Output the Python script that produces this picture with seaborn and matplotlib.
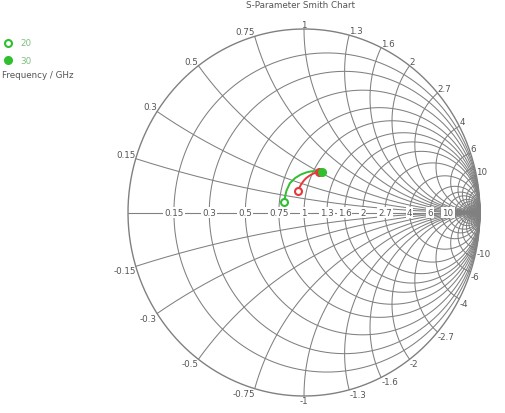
import numpy as np
import pandas as pd
import matplotlib
matplotlib.use("Agg")
import matplotlib.pyplot as plt
from matplotlib.lines import Line2D
import seaborn as sns

# ---- data ----
title = "S-Parameter Smith Chart"
grid_values = [0.15, 0.3, 0.5, 0.75, 1, 1.3, 1.6, 2, 2.7, 4, 6, 10]
extra_grid = [8, 13, 16, 20, 25, 30, 40, 50, 70, 100, 200]
freq_ghz = [20, 21.25, 22.5, 23.75, 25, 26.25, 27.5, 28.75, 30]
green_re = [-0.114, -0.100, -0.080, -0.050, -0.018, 0.015, 0.045, 0.075, 0.102]
green_im = [0.057, 0.118, 0.160, 0.188, 0.207, 0.219, 0.225, 0.225, 0.221]
red_re = [-0.034, -0.025, -0.013, 0.000, 0.013, 0.030, 0.048, 0.067, 0.085]
red_im = [0.117, 0.138, 0.158, 0.175, 0.188, 0.200, 0.210, 0.217, 0.221]
legend_labels = ["20", "30"]
legend_title = "Frequency / GHz"

GREEN = "#2fbf2f"
RED = "#e8373a"
GRID = "#808080"
TXT = "#555555"

sns.set_theme(style="white")
plt.rcParams["font.family"] = ["DejaVu Sans"]

W, H = 505, 414
fig = plt.figure(figsize=(W / 100, H / 100), dpi=100)
cx, cy, rx, ry = 304, 213.5, 176, 183.5
ax = fig.add_axes([(cx - rx) / W, (H - (cy + ry)) / H, 2 * rx / W, 2 * ry / H])
ax.set_xlim(-1, 1)
ax.set_ylim(-1, 1)
ax.axis("off")

def gamma(z):
    return (z - 1) / (z + 1)

t = np.concatenate([-np.logspace(4, -3, 1500), [0], np.logspace(-3, 4, 1500)])
tpos = np.concatenate([[0], np.logspace(-3, 4, 2500)])

# resistance circles
for r in grid_values + extra_grid:
    g = gamma(r + 1j * t)
    ax.plot(g.real, g.imag, color=GRID, lw=0.75, clip_on=False, zorder=1)
# reactance arcs
for xv in grid_values + extra_grid:
    for s in (1, -1):
        g = gamma(tpos + 1j * s * xv)
        ax.plot(g.real, g.imag, color=GRID, lw=0.75, clip_on=False, zorder=1)
# outer circle
th = np.linspace(0, 2 * np.pi, 800)
ax.plot(np.cos(th), np.sin(th), color=GRID, lw=1.0, clip_on=False, zorder=1)
# real axis
ax.plot([-1, 1], [0, 0], color=GRID, lw=0.8, clip_on=False, zorder=1)

fs = 6.3
# real-axis labels
for r in grid_values:
    gx = (r - 1) / (r + 1)
    ax.text(gx, 0, f"{r:g}", ha="center", va="center", fontsize=fs, color=TXT,
            bbox=dict(boxstyle="square,pad=0.12", fc="white", ec="none"), zorder=3)
# reactance labels around the edge
for xv in grid_values:
    for s in (1, -1):
        g = gamma(1j * s * xv)
        if g.real < -0.05:
            ha = "right"
        elif g.real > 0.05:
            ha = "left"
        else:
            ha = "center"
        va = "bottom" if s > 0 else "top"
        lab = f"{xv:g}" if s > 0 else f"-{xv:g}"
        ax.text(g.real, g.imag, lab, ha=ha, va=va, fontsize=fs, color=TXT, zorder=3)

# traces
df = pd.DataFrame({
    "freq": freq_ghz * 2,
    "re": green_re + red_re,
    "im": green_im + red_im,
    "trace": ["S11"] * len(freq_ghz) + ["S22"] * len(freq_ghz),
})
sns.lineplot(data=df, x="re", y="im", hue="trace", palette={"S11": GREEN, "S22": RED},
             sort=False, estimator=None, lw=1.4, legend=False, ax=ax, zorder=4)
ax.set_xlim(-1, 1)
ax.set_ylim(-1, 1)
for re, im, col in [(red_re, red_im, RED), (green_re, green_im, GREEN)]:
    ax.plot(re[0], im[0], marker="o", ms=5, mfc="white", mec=col, mew=1.5, zorder=5)
    ax.plot(re[-1], im[-1], marker="o", ms=5.5, mfc=col, mec=col, zorder=5)

# title
fig.text(300 / W, 1 - 5 / H, title, ha="center", va="center", fontsize=fs, color=TXT)

# legend
for i, lab in enumerate(legend_labels):
    py = 44 + 17 * i
    filled = i == 1
    fig.add_artist(Line2D([8 / W], [1 - py / H], marker="o", ms=5,
                          mfc=GREEN if filled else "white", mec=GREEN, mew=1.5,
                          transform=fig.transFigure))
    fig.text(20 / W, 1 - py / H, lab, ha="left", va="center", fontsize=fs, color="#7fbf7f")
fig.text(2 / W, 1 - 76 / H, legend_title, ha="left", va="center", fontsize=fs, color=TXT)

fig.savefig("out.png", dpi=100)
